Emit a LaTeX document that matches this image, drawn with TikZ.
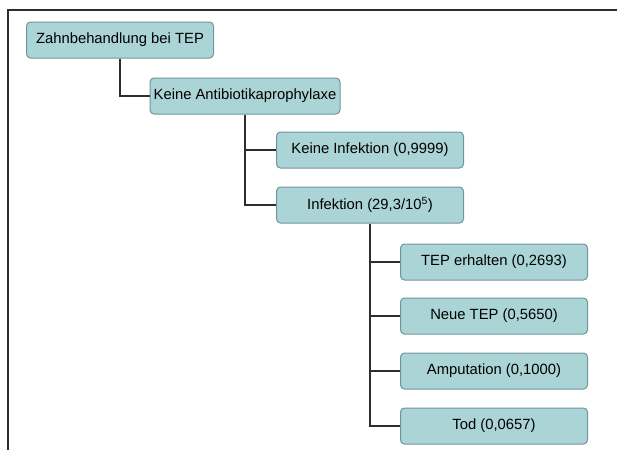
\documentclass[tikz,border=0pt]{standalone}
\usepackage{fontspec}
\setmainfont{Liberation Sans}
\definecolor{boxfill}{RGB}{170,212,214}
\definecolor{boxline}{RGB}{112,150,154}
\definecolor{linkgray}{RGB}{45,45,45}
\tikzset{
    treebox/.style={draw=boxline, fill=boxfill, line width=1pt, rounded corners=4pt,
        minimum width=187pt, minimum height=36pt, inner sep=0pt, font=\fontsize{14.8}{17}\selectfont},
    treelink/.style={draw=linkgray, line width=2pt}
}
\begin{document}
\begin{tikzpicture}[x=1pt, y=-1pt]
    \useasboundingbox (0,0) rectangle (617,450);

    % Frame
    \draw[linkgray, line width=2pt] (8,450) -- (8,10) -- (617,10);

    % Decision and first branch
    \node[treebox] (zahn) at (120,40) {Zahnbehandlung bei TEP};
    \node[treebox, minimum width=190pt] (keineab) at (245,96) {Keine Antibiotikaprophylaxe};

    % Infection or not
    \node[treebox] (keineinf) at (370,150) {Keine Infektion (0,9999)};
    \node[treebox] (inf) at (370,205) {Infektion (29,3/10\textsuperscript{5})};

    % Outcomes after infection
    \node[treebox] (erhalten) at (494,262) {TEP erhalten (0,2693)};
    \node[treebox] (neutep) at (494,316) {Neue TEP (0,5650)};
    \node[treebox] (amput) at (494,371) {Amputation (0,1000)};
    \node[treebox] (tod) at (494,426) {Tod (0,0657)};

    % Connectors
    \draw[treelink] (zahn.south) |- (keineab.west);
    \draw[treelink] (keineab.south) |- (keineinf.west);
    \draw[treelink] (keineab.south) |- (inf.west);
    \foreach \n in {erhalten, neutep, amput, tod}
        \draw[treelink] (inf.south) |- (\n.west);
\end{tikzpicture}
\end{document}
